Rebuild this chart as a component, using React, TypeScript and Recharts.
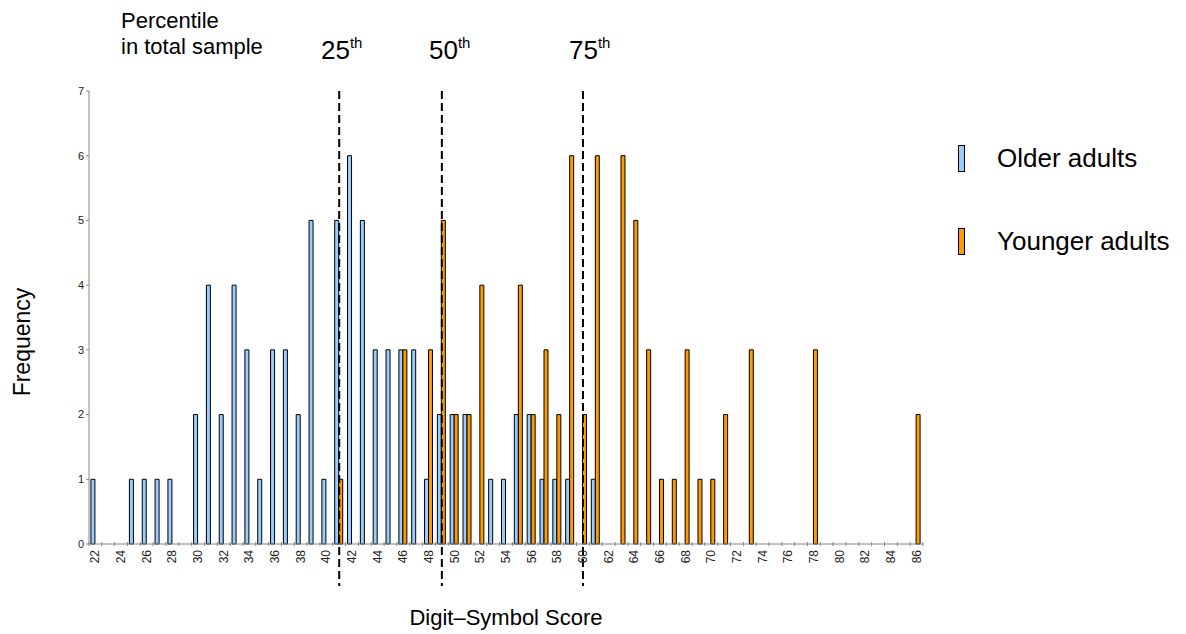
import React from 'react'
import { BarChart, Bar, XAxis, YAxis, ReferenceLine } from 'recharts'

// Digit-Symbol score bins, 22 to 86
const scores = [
  22, 23, 24, 25, 26, 27, 28, 29, 30, 31, 32, 33, 34, 35, 36, 37, 38, 39, 40, 41, 42, 43,
  44, 45, 46, 47, 48, 49, 50, 51, 52, 53, 54, 55, 56, 57, 58, 59, 60, 61, 62, 63, 64, 65,
  66, 67, 68, 69, 70, 71, 72, 73, 74, 75, 76, 77, 78, 79, 80, 81, 82, 83, 84, 85, 86
]

const olderAdults = [
  1, 0, 0, 1, 1, 1, 1, 0, 2, 4, 2, 4, 3, 1, 3, 3, 2, 5, 1, 5, 6, 5,
  3, 3, 3, 3, 1, 2, 2, 2, 0, 1, 1, 2, 2, 1, 1, 1, 0, 1, 0, 0, 0, 0,
  0, 0, 0, 0, 0, 0, 0, 0, 0, 0, 0, 0, 0, 0, 0, 0, 0, 0, 0, 0, 0
]

const youngerAdults = [
  0, 0, 0, 0, 0, 0, 0, 0, 0, 0, 0, 0, 0, 0, 0, 0, 0, 0, 0, 1, 0, 0,
  0, 0, 3, 0, 3, 5, 2, 2, 4, 0, 0, 4, 2, 3, 2, 6, 2, 6, 0, 6, 5, 3,
  1, 1, 3, 1, 1, 2, 0, 3, 0, 0, 0, 0, 3, 0, 0, 0, 0, 0, 0, 0, 2
]

const yTicks = [0, 1, 2, 3, 4, 5, 6, 7]

// percentile cut-offs in the total sample
const percentiles = [
  { label: '25', score: 41 },
  { label: '50', score: 49 },
  { label: '75', score: 60 }
]

const series = [
  { key: 'older', name: 'Older adults', color: '#99CCFF' },
  { key: 'younger', name: 'Younger adults', color: '#FF9900' }
]

const data = scores.map((s, i) => ({
  score: s,
  older: olderAdults[i],
  younger: youngerAdults[i]
}))

const FONT = '"Liberation Sans", Arial, sans-serif'
const AXIS_COLOR = '#868686'

// Excel style category axis: marks on the category boundaries, label on every other bin
const CategoryTick = (props: any) => {
  const { x, y, payload, index } = props
  const half = payload?.offset || 6.4
  const value = Number(payload.value)
  return (
    <g>
      <line x1={x - half} x2={x - half} y1={y - 8} y2={y - 4} stroke={AXIS_COLOR} />
      {index === scores.length - 1 && (
        <line x1={x + half} x2={x + half} y1={y - 8} y2={y - 4} stroke={AXIS_COLOR} />
      )}
      {value % 2 === 0 && (
        <text
          x={x}
          y={y}
          transform={`rotate(-90 ${x} ${y})`}
          textAnchor="end"
          dominantBaseline="central"
          fontSize={12}
          fill="#222"
          fontFamily={FONT}
        >
          {value}
        </text>
      )}
    </g>
  )
}

// dashed percentile line that runs on past the axis, through the tick labels
const PercentileLine = (props: any) => {
  const { x1, y1, x2, y2 } = props
  const top = Math.min(y1, y2)
  const bottom = Math.max(y1, y2)
  return (
    <line
      x1={x1}
      x2={x2}
      y1={top}
      y2={bottom + 42}
      stroke="#000"
      strokeWidth={2}
      strokeDasharray="8 4"
    />
  )
}

export default function App() {
  const headerCenters = [336, 444, 584]
  return (
    <div
      style={{
        position: 'absolute',
        left: 0,
        top: 0,
        width: 1186,
        height: 634,
        background: '#fff',
        fontFamily: FONT,
        color: '#000'
      }}
    >
      <BarChart
        width={1186}
        height={634}
        data={data}
        margin={{ top: 91, right: 263, bottom: 60, left: 59 }}
        barCategoryGap="15%"
        barGap={0}
        style={{ overflow: 'visible' }}
      >
        <XAxis
          dataKey="score"
          type="category"
          interval={0}
          height={30}
          tickLine={false}
          tick={<CategoryTick />}
          tickMargin={0}
          axisLine={{ stroke: AXIS_COLOR }}
        />
        <YAxis
          width={30}
          domain={[0, 7]}
          ticks={yTicks}
          interval={0}
          tickSize={3}
          tick={{ fontSize: 11, fill: '#222', fontFamily: FONT }}
          tickLine={{ stroke: AXIS_COLOR }}
          axisLine={{ stroke: AXIS_COLOR }}
        />
        {series.map((s) => (
          <Bar
            key={s.key}
            dataKey={s.key}
            name={s.name}
            fill={s.color}
            stroke="#000"
            strokeWidth={1}
            isAnimationActive={false}
          />
        ))}
        {percentiles.map((p) => (
          <ReferenceLine
            key={p.label}
            x={p.score}
            ifOverflow="visible"
            shape={(props: any) => <PercentileLine {...props} />}
          />
        ))}
      </BarChart>

      {/* header */}
      <div style={{ position: 'absolute', left: 121, top: 8, fontSize: 22, lineHeight: '26px' }}>
        Percentile
        <br />
        in total sample
      </div>
      {percentiles.map((p, i) => (
        <div
          key={p.label}
          style={{
            position: 'absolute',
            left: headerCenters[i] - 15,
            top: 34,
            fontSize: 26,
            lineHeight: '32px',
            whiteSpace: 'nowrap'
          }}
        >
          {p.label}
          <span style={{ fontSize: 15, position: 'relative', top: -11 }}>th</span>
        </div>
      ))}

      {/* axis titles */}
      <div
        style={{
          position: 'absolute',
          left: 22,
          top: 342,
          width: 0,
          height: 0,
          fontSize: 23,
          whiteSpace: 'nowrap'
        }}
      >
        <div style={{ position: 'absolute', left: 0, top: 0, transform: 'translate(-50%, -50%) rotate(-90deg)' }}>
          Frequency
        </div>
      </div>
      <div
        style={{
          position: 'absolute',
          left: 89,
          width: 834,
          top: 605,
          textAlign: 'center',
          fontSize: 22,
          lineHeight: '26px'
        }}
      >
        Digit–Symbol Score
      </div>

      {/* legend */}
      {series.map((s, i) => (
        <div
          key={s.key}
          style={{ position: 'absolute', left: 958, top: 143 + i * 83, height: 30, display: 'flex', alignItems: 'center' }}
        >
          <div style={{ width: 5, height: 25, background: s.color, border: '1px solid #000' }} />
          <div style={{ marginLeft: 32, fontSize: 26 }}>{s.name}</div>
        </div>
      ))}
    </div>
  )
}
